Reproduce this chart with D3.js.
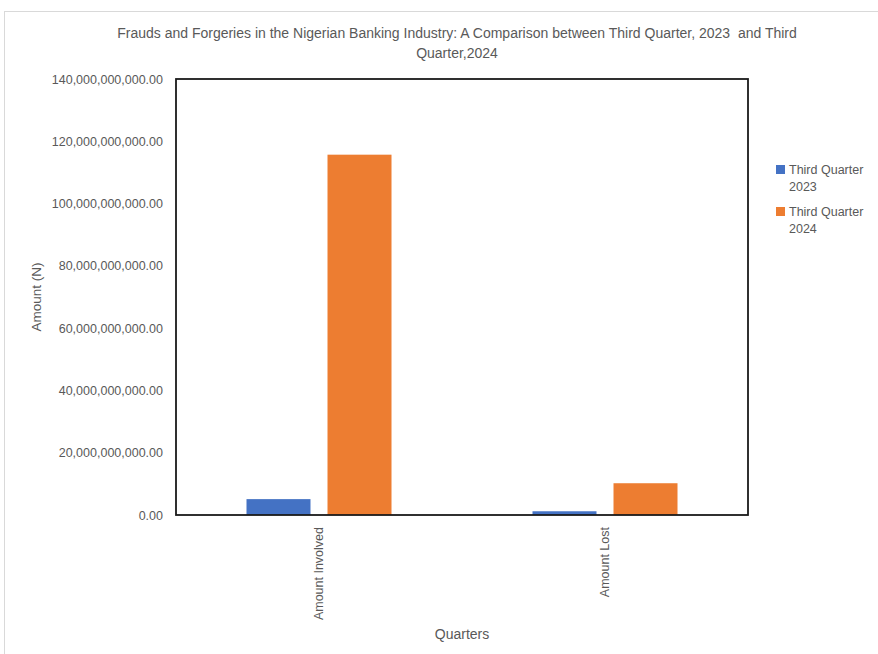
<!DOCTYPE html>
<html>
<head>
<meta charset="utf-8">
<script src="https://cdn.jsdelivr.net/npm/d3@7"></script>
<style>
  html, body { margin: 0; padding: 0; background: #fff; }
  svg { display: block; font-family: "Liberation Sans", Arial, sans-serif; }
</style>
</head>
<body>
<svg id="chart" width="878" height="654"></svg>
<script>
// Fraud amounts (Naira) by category for each quarter
const categories = ["Amount Involved", "Amount Lost"];
const seriesNames = ["Third Quarter 2023", "Third Quarter 2024"];
const q3_2023 = [5.1e9, 1.2e9];
const q3_2024 = [115.7e9, 10.2e9];
const yTicks = [0, 20e9, 40e9, 60e9, 80e9, 100e9, 120e9, 140e9];
const colors = ["#4472C4", "#ED7D31"];

const values = [q3_2023, q3_2024];
const rows = categories.map((c, i) => ({
  cat: c,
  vals: seriesNames.map((s, j) => ({ s, v: values[j][i] }))
}));

const svg = d3.select("#chart");
const textCol = "#595959";

// outer chart-area frame
svg.append("rect")
  .attr("x", 4.5).attr("y", 11.5).attr("width", 900).attr("height", 700)
  .attr("fill", "none").attr("stroke", "#d9d9d9").attr("stroke-width", 1);

const plot = { left: 176, right: 748, top: 79, bottom: 515 };

const y = d3.scaleLinear().domain([0, 140e9]).range([plot.bottom, plot.top]);
const x0 = d3.scaleBand().domain(categories).range([plot.left, plot.right]);
const groupW = 145;
const x1 = d3.scaleBand().domain(seriesNames)
  .range([(x0.bandwidth() - groupW) / 2, (x0.bandwidth() + groupW) / 2])
  .paddingInner(0.21);

// title
const title = svg.append("text")
  .attr("x", 457).attr("text-anchor", "middle")
  .attr("fill", textCol).style("font-size", "14px");
title.append("tspan").attr("x", 457).attr("y", 38)
  .text("Frauds and Forgeries in the Nigerian Banking Industry: A Comparison between Third Quarter, 2023\u00a0 and Third");
title.append("tspan").attr("x", 457).attr("y", 58).text("Quarter,2024");

// bars
const g = svg.append("g");
g.selectAll("g.grp").data(rows).join("g")
  .attr("class", "grp")
  .attr("transform", d => `translate(${x0(d.cat)},0)`)
  .selectAll("rect").data(d => d.vals).join("rect")
  .attr("x", d => x1(d.s))
  .attr("width", x1.bandwidth())
  .attr("y", d => y(d.v))
  .attr("height", d => y(0) - y(d.v))
  .attr("fill", (d, i) => colors[i]);

// y axis labels
const yAxis = d3.axisLeft(y).tickValues(yTicks)
  .tickFormat(d3.format(",.2f")).tickSize(0).tickPadding(13);
svg.append("g").attr("transform", `translate(${plot.left},0)`).call(yAxis)
  .call(a => a.select(".domain").remove())
  .selectAll("text").attr("fill", textCol)
  .style("font-size", "12.5px").style("font-family", "Liberation Sans, Arial, sans-serif");

// x axis labels (rotated)
const xAxis = d3.axisBottom(x0).tickSize(0).tickPadding(0);
svg.append("g").attr("transform", `translate(0,${plot.bottom})`).call(xAxis)
  .call(a => a.select(".domain").remove())
  .selectAll("text")
  .attr("fill", textCol)
  .style("font-size", "12.5px").style("font-family", "Liberation Sans, Arial, sans-serif")
  .attr("transform", "rotate(-90)")
  .attr("text-anchor", "end")
  .attr("x", -12).attr("y", 0).attr("dy", "0.35em");

// plot frame
svg.append("rect")
  .attr("x", plot.left).attr("y", plot.top)
  .attr("width", plot.right - plot.left).attr("height", plot.bottom - plot.top)
  .attr("fill", "none").attr("stroke", "#1a1a1a").attr("stroke-width", 1.8);

// axis titles
svg.append("text")
  .attr("transform", `translate(41,${(plot.top + plot.bottom) / 2}) rotate(-90)`)
  .attr("text-anchor", "middle").attr("fill", textCol)
  .style("font-size", "13.5px").text("Amount (N)");
svg.append("text")
  .attr("x", 462).attr("y", 639).attr("text-anchor", "middle")
  .attr("fill", textCol).style("font-size", "14px").text("Quarters");

// legend
const legend = svg.append("g");
seriesNames.forEach((s, i) => {
  const ly = 170 + i * 42;
  legend.append("rect").attr("x", 776).attr("y", ly - 5)
    .attr("width", 9).attr("height", 9).attr("fill", colors[i]);
  const t = legend.append("text").attr("fill", textCol).style("font-size", "12.5px");
  const parts = s.split(" ");
  t.append("tspan").attr("x", 789).attr("y", ly + 4).text(parts.slice(0, 2).join(" "));
  t.append("tspan").attr("x", 789).attr("y", ly + 21).text(parts[2]);
});
</script>
</body>
</html>
